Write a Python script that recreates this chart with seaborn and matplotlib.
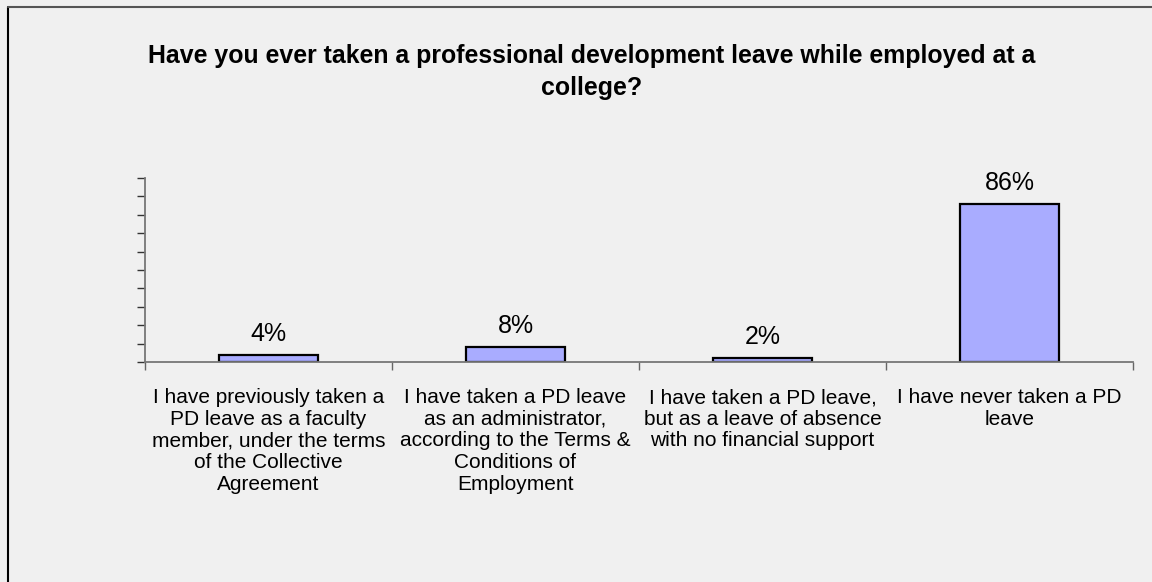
import matplotlib
matplotlib.use("Agg")
import matplotlib.pyplot as plt
from matplotlib.lines import Line2D
import seaborn as sns
import pandas as pd

categories = [
    "I have previously taken a\nPD leave as a faculty\nmember, under the terms\nof the Collective\nAgreement",
    "I have taken a PD leave\nas an administrator,\naccording to the Terms &\nConditions of\nEmployment",
    "I have taken a PD leave,\nbut as a leave of absence\nwith no financial support",
    "I have never taken a PD\nleave",
]
percentages = [4, 8, 2, 86]
title = "Have you ever taken a professional development leave while employed at a\ncollege?"

sns.set_theme(style="white")
plt.rcParams["font.family"] = ["Liberation Sans", "DejaVu Sans"]
plt.rcParams["text.color"] = "black"
plt.rcParams["xtick.labelcolor"] = "black"

bg = "#f0f0f0"
fig = plt.figure(figsize=(11.52, 5.82), dpi=100, facecolor=bg)
ax = fig.add_axes([145 / 1152, 1 - 362 / 582, (1133 - 145) / 1152, (362 - 178) / 582])
ax.set_facecolor(bg)

df = pd.DataFrame({"category": categories, "pct": percentages})
sns.barplot(data=df, x="category", y="pct", ax=ax, width=0.4,
            color="#a9acff", saturation=1, edgecolor="black", linewidth=1.6)

ax.set_xlim(-0.5, len(categories) - 0.5)
ax.set_ylim(0, 100)
ax.set_xlabel("")
ax.set_ylabel("")

# y axis: tick marks every 10%, no labels
ax.set_yticks(range(0, 101, 10))
ax.set_yticklabels([])
ax.tick_params(axis="y", which="major", left=True, length=6, width=1, color="#333333")

# x axis: category labels, tick marks at category boundaries
ax.set_xticks(range(len(categories)))
ax.set_xticklabels(categories, fontsize=15, linespacing=1.17, va="top", color="black")
ax.tick_params(axis="x", which="major", length=0, pad=19)
ax.set_xticks([i - 0.5 for i in range(len(categories) + 1)], minor=True)
ax.tick_params(axis="x", which="minor", bottom=True, length=6, width=1, color="#666666")

for side in ["top", "right"]:
    ax.spines[side].set_visible(False)
for side in ["left", "bottom"]:
    ax.spines[side].set_color("#777777")
    ax.spines[side].set_linewidth(1.3)

for i, v in enumerate(percentages):
    ax.annotate(f"{v}%", (i, v), xytext=(0, 15), textcoords="offset points",
                ha="center", va="center", fontsize=18, color="black")

fig.text(592 / 1152, 1 - 44 / 582, title, ha="center", va="top",
         fontsize=17.9, fontweight="bold", linespacing=1.42, color="black")

# outer frame lines
fig.add_artist(Line2D([7.5 / 1152, 7.5 / 1152], [0, 1 - 6.5 / 582],
                      transform=fig.transFigure, color="black", lw=1.5))
fig.add_artist(Line2D([7.5 / 1152, 1], [1 - 6.5 / 582, 1 - 6.5 / 582],
                      transform=fig.transFigure, color="#555555", lw=1.5))

fig.savefig("out.png", dpi=100, facecolor=bg)
